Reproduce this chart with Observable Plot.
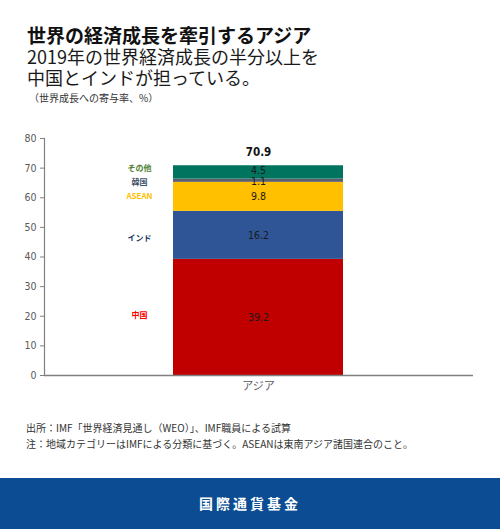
<!DOCTYPE html>
<html>
<head>
<meta charset="utf-8">
<script src="https://cdn.jsdelivr.net/npm/d3@7"></script>
<script src="https://cdn.jsdelivr.net/npm/@observablehq/plot@0.6"></script>
<style>
  html, body { margin: 0; padding: 0; background: #fff; }
  #wrap { position: relative; width: 500px; height: 529px; overflow: hidden; background: #fff;
          font-family: "Noto Sans CJK JP", "Noto Sans", sans-serif; }
  #head { position: absolute; left: 27px; top: 24px; }
  #title { font-size: 19px; font-weight: 700; line-height: 22px; color: #111; white-space: nowrap; }
  .sub { font-size: 18px; font-weight: 400; line-height: 21px; color: #1a1a1a; white-space: nowrap; }
  #unit { font-size: 10px; line-height: 14px; color: #333; margin-top: 3px; margin-left: 2px; }
  #chart { position: absolute; left: 0; top: 120px; }
  #notes { position: absolute; left: 26px; top: 420px; font-size: 10px; line-height: 16px; color: #333; white-space: nowrap; }
  #footer { position: absolute; left: 0; top: 478px; width: 500px; height: 51px; background: #0b4c93;
            color: #fff; text-align: center; font-size: 14px; font-weight: 700; line-height: 51px; letter-spacing: 3px; }
</style>
</head>
<body>
<div id="wrap">
  <div id="head">
    <div id="title">世界の経済成長を牽引するアジア</div>
    <div class="sub">2019年の世界経済成長の半分以上を</div>
    <div class="sub">中国とインドが担っている。</div>
    <div id="unit">（世界成長への寄与率、%）</div>
  </div>
  <div id="chart"></div>
  <div id="notes">
    <div>出所：IMF「世界経済見通し（WEO）」、IMF職員による試算</div>
    <div>注：地域カテゴリーはIMFによる分類に基づく。ASEANは東南アジア諸国連合のこと。</div>
  </div>
  <div id="footer">国際通貨基金</div>
</div>
<script>
// ---- data ----
const categories = ["アジア"];
const regions = ["中国", "インド", "ASEAN", "韓国", "その他"];
const values = [39.2, 16.2, 9.8, 1.1, 4.5];
const totalLabel = 70.9;
const yTicks = [0, 10, 20, 30, 40, 50, 60, 70, 80];

// ---- styles ----
const barColors = ["#C00000", "#2F5597", "#FFC000", "#5A5F6E", "#00745F"];
const labelColors = ["#FF0000", "#203864", "#FFC000", "#44546A", "#548235"];
const labelDy = {"その他": -4, "韓国": 2, "インド": 3, "中国": -2};
const valueDy = {"その他": -2, "韓国": 1};
const numFont = "'Liberation Sans Narrow', 'Arial Narrow', 'DejaVu Sans Condensed', 'Liberation Sans', sans-serif";
const cjkFont = "'Noto Sans CJK JP', sans-serif";

const cum = d3.cumsum(values);
const rows = regions.map((r, i) => ({
  category: categories[0],
  region: r,
  value: values[i],
  y1: cum[i] - values[i],
  y2: cum[i],
  mid: cum[i] - values[i] / 2
}));

const chart = Plot.plot({
  width: 500,
  height: 280,
  marginLeft: 44,
  marginRight: 27,
  marginTop: 18,
  marginBottom: 25,
  style: {fontFamily: numFont, background: "transparent"},
  x: {domain: categories, padding: 0.43, label: null},
  y: {domain: [0, 80], label: null},
  color: {domain: regions, range: barColors},
  marks: [
    Plot.barY(rows, {x: "category", y1: "y1", y2: "y2", fill: "region"}),
    Plot.axisY({ticks: yTicks, tickSize: 4, tickPadding: 4, fontSize: 10.5, fill: "#595959", stroke: "#808080", label: null}),
    Plot.axisX({tickSize: 0, tickPadding: 7, fontSize: 11, fill: "#595959", fontFamily: cjkFont, label: null}),
    Plot.ruleY([0], {stroke: "#808080", strokeWidth: 1.5}),
    Plot.frame({anchor: "left", stroke: "#808080", strokeWidth: 1.2}),
    ...regions.map(r => Plot.text(rows.filter(d => d.region === r), {
      x: "category", y: "mid", text: d => d.value.toFixed(1), dy: valueDy[r] || 0,
      fill: "#1a1a1a", fontSize: 10.5
    })),
    Plot.text([{category: categories[0], total: totalLabel}], {x: "category", y: "total", text: d => d.total.toFixed(1), dy: -13, fontSize: 11.5, fontWeight: "bold", fill: "#111"}),
    ...regions.map((r, i) => Plot.text(rows.filter(d => d.region === r), {
      x: "category", y: "mid", text: "region", dx: -119, dy: labelDy[r] || 0,
      fill: labelColors[i], fontSize: 8, fontWeight: 700, fontFamily: cjkFont
    }))
  ]
});
document.getElementById("chart").appendChild(chart);
</script>
</body>
</html>
